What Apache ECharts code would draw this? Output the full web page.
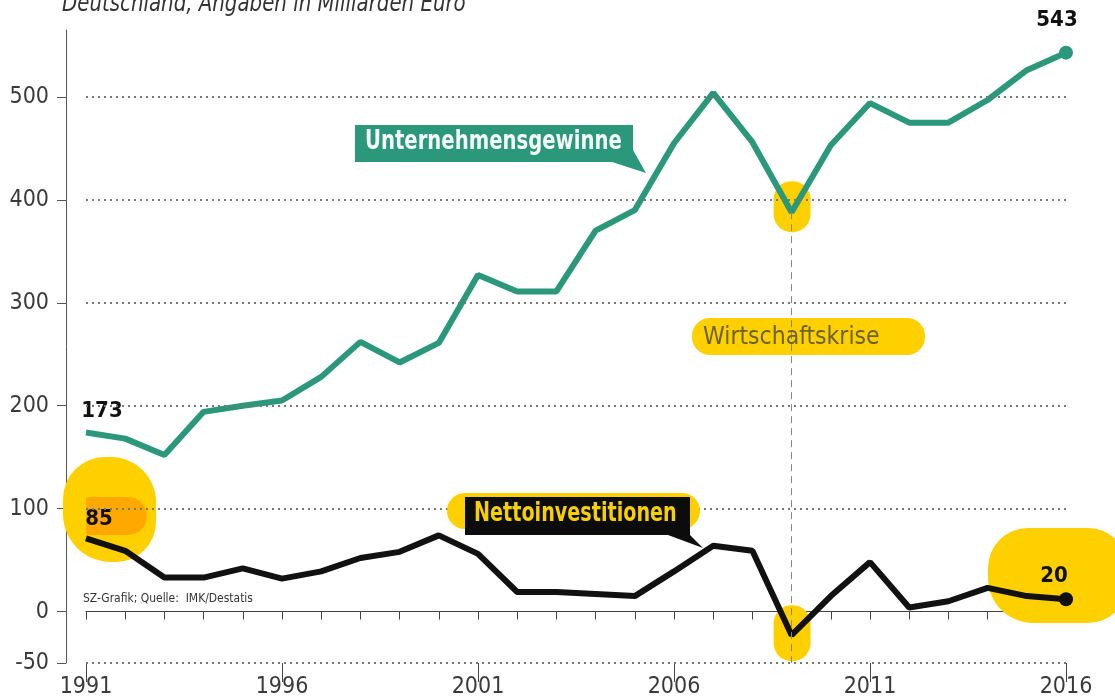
<!DOCTYPE html>
<html>
<head>
<meta charset="utf-8">
<script src="https://cdn.jsdelivr.net/npm/echarts@6/dist/echarts.min.js"></script>
<style>
  html, body { margin: 0; padding: 0; background: #fff; }
  #main { width: 1115px; height: 700px; }
</style>
</head>
<body>
<div id="main"></div>
<script>
// Daten (Milliarden Euro)
const years = ['1991', '1992', '1993', '1994', '1995', '1996', '1997', '1998', '1999', '2000',
  '2001', '2002', '2003', '2004', '2005', '2006', '2007', '2008', '2009', '2010',
  '2011', '2012', '2013', '2014', '2015', '2016'];
const gains = [174, 168, 152, 194, 200, 205, 228, 262, 242, 261,
  327, 311, 311, 370, 390, 455, 504, 456, 388, 453,
  494, 475, 475, 497, 526, 543];
const invest = [71, 59, 33, 33, 42, 32, 39, 52, 58, 74,
  56, 19, 19, 17, 15, 39, 64, 59, -23, 15,
  48, 4, 10, 23, 15, 12];
const gainLabels = ['173', '543'];     // erster / letzter Wert
const investLabels = ['85', '20'];
const yTicks = [-50, 0, 100, 200, 300, 400, 500];
const gridValues = [-50, 100, 200, 300, 400, 500];
const crisisYear = '2009';

const GREEN = '#2b987b';
const YELLOW = '#ffd000';
const NARROW = '"DejaVu Sans Condensed", "Liberation Sans Narrow", sans-serif';

const last = years.length - 1;

// erster und letzter Punkt bekommen Beschriftung
const withLabels = (vals, labels, offFirst, offLast) => vals.map((v, i) => {
  if (i === 0) {
    return { value: v, label: { show: true, formatter: labels[0], position: 'top', offset: offFirst } };
  }
  if (i === last) {
    return { value: v, label: { show: true, formatter: labels[1], position: 'top', offset: offLast } };
  }
  return v;
});

const valueLabel = {
  fontFamily: NARROW,
  fontWeight: 'bold',
  fontSize: 22,
  color: '#111'
};

const chart = echarts.init(document.getElementById('main'));

const option = {
  animation: false,
  grid: { left: 86, right: 49, top: 30, bottom: 37, containLabel: false },
  xAxis: [
    {
      // Nulllinie mit kleinen Ticks
      type: 'category',
      position: 'bottom',
      data: years,
      boundaryGap: false,
      axisLine: { onZero: true, lineStyle: { color: '#444', width: 1 } },
      axisTick: { show: true, interval: 0, length: 8, lineStyle: { color: '#444' } },
      axisLabel: { show: false },
      splitLine: { show: false }
    },
    {
      // lange Ticks alle 5 Jahre
      type: 'category',
      position: 'bottom',
      data: years,
      boundaryGap: false,
      axisLine: { show: false, onZero: true },
      axisTick: { show: true, interval: 4, length: 19, lineStyle: { color: '#444' } },
      axisLabel: { show: false },
      splitLine: { show: false }
    },
    {
      // Jahreszahlen unten
      type: 'category',
      position: 'bottom',
      data: years,
      boundaryGap: false,
      axisLine: { show: false, onZero: false },
      axisTick: { show: false },
      axisLabel: {
        interval: 4,
        margin: 13,
        fontFamily: NARROW,
        fontSize: 23,
        color: '#3a3a3a'
      },
      splitLine: { show: false }
    }
  ],
  yAxis: {
    type: 'value',
    min: -50,
    max: 565,
    offset: 20,
    axisLine: { show: true, lineStyle: { color: '#555', width: 1 } },
    axisTick: { show: true, customValues: yTicks, length: 9, lineStyle: { color: '#555' } },
    axisLabel: {
      customValues: yTicks,
      margin: 17,
      fontFamily: NARROW,
      fontSize: 23,
      color: '#3a3a3a'
    },
    splitLine: { show: false }
  },
  series: [
    {
      // gepunktete Hilfslinien
      name: 'grid',
      type: 'line',
      data: [],
      z: 1,
      silent: true,
      markLine: {
        silent: true,
        symbol: 'none',
        label: { show: false },
        lineStyle: { type: [2, 4], color: '#777', width: 2 },
        data: gridValues.map(v => ({ yAxis: v }))
      }
    },
    {
      name: 'Unternehmensgewinne',
      type: 'line',
      z: 3,
      data: withLabels(gains, gainLabels, [16, -5], [-9, -9]),
      lineStyle: { color: GREEN, width: 6 },
      itemStyle: { color: GREEN },
      symbol: 'circle',
      symbolSize: (v, p) => (p.dataIndex === last ? 14 : 0),
      showAllSymbol: true,
      label: valueLabel,
      emphasis: { disabled: true },
      markLine: {
        silent: true,
        symbol: 'none',
        label: { show: false },
        lineStyle: { type: [7, 5], color: '#888', width: 1 },
        data: [[
          { coord: [crisisYear, gains[years.indexOf(crisisYear)]] },
          { coord: [crisisYear, -50] }
        ]]
      }
    },
    {
      name: 'Nettoinvestitionen',
      type: 'line',
      z: 3,
      data: withLabels(invest, investLabels, [13, -3], [-12, 0]),
      lineStyle: { color: '#111', width: 6 },
      itemStyle: { color: '#111' },
      symbol: 'circle',
      symbolSize: (v, p) => (p.dataIndex === last ? 14 : 0),
      showAllSymbol: true,
      label: valueLabel,
      emphasis: { disabled: true }
    }
  ]
};

chart.setOption(option);

// Markierungen an den Krisenpunkten aus den Daten berechnen
const ci = years.indexOf(crisisYear);
const pG = chart.convertToPixel({ xAxisIndex: 0, yAxisIndex: 0 }, [crisisYear, gains[ci]]);
const pI = chart.convertToPixel({ xAxisIndex: 0, yAxisIndex: 0 }, [crisisYear, invest[ci]]);

chart.setOption({
  graphic: [
    // Titel (oben abgeschnitten)
    {
      type: 'text', x: 62, y: -8, scaleX: 0.88, z: 10,
      style: {
        text: 'Deutschland, Angaben in Milliarden Euro',
        font: 'italic 25px ' + NARROW,
        fill: '#333'
      }
    },
    // Quelle
    {
      type: 'text', x: 83, y: 592, scaleX: 0.92, z: 10,
      style: { text: 'SZ-Grafik; Quelle:  IMK/Destatis', font: '13px ' + NARROW, fill: '#333' }
    },
    // gelbe Markierungen
    {
      type: 'rect', z: 1,
      shape: { x: pG[0] - 18, y: pG[1] - 31, width: 37, height: 51, r: 18 },
      style: { fill: YELLOW }
    },
    {
      type: 'rect', z: 1,
      shape: { x: pI[0] - 18, y: pI[1] - 30, width: 37, height: 56, r: 18 },
      style: { fill: YELLOW }
    },
    {
      type: 'rect', z: 1,
      shape: { x: 63, y: 457, width: 93, height: 105, r: [42, 45, 40, 48] },
      style: { fill: YELLOW }
    },
    {
      type: 'rect', z: 1,
      shape: { x: 86, y: 497, width: 61, height: 38, r: [3, 19, 19, 3] },
      style: { fill: '#ffa800' }
    },
    {
      type: 'rect', z: 1,
      shape: { x: 988, y: 528, width: 140, height: 95, r: [40, 40, 40, 45] },
      style: { fill: YELLOW }
    },
    // Wirtschaftskrise
    {
      type: 'rect', z: 1,
      shape: { x: 692, y: 318, width: 233, height: 37, r: 18 },
      style: { fill: YELLOW }
    },
    {
      type: 'text', x: 703, y: 325, scaleX: 0.98, z: 6,
      style: { text: 'Wirtschaftskrise', font: '25px ' + NARROW, fill: '#6b6232' }
    },
    // Unternehmensgewinne Kasten
    {
      type: 'polygon', z: 6,
      shape: { points: [[355, 125], [633, 125], [633, 150], [646, 173], [612, 162], [355, 162]] },
      style: { fill: GREEN }
    },
    {
      type: 'text', x: 365, y: 129, scaleX: 0.84, z: 7,
      style: { text: 'Unternehmensgewinne', font: 'bold 26px ' + NARROW, fill: '#f4fbf8' }
    },
    // Nettoinvestitionen Kasten
    {
      type: 'rect', z: 5,
      shape: { x: 447, y: 493, width: 253, height: 36, r: 18 },
      style: { fill: YELLOW }
    },
    {
      type: 'polygon', z: 6,
      shape: { points: [[465, 497], [690, 497], [690, 535], [703, 548], [668, 535], [465, 535]] },
      style: { fill: '#0c0c0c' }
    },
    {
      type: 'text', x: 474, y: 501, scaleX: 0.82, z: 7,
      style: { text: 'Nettoinvestitionen', font: 'bold 26px ' + NARROW, fill: '#f7d000' }
    }
  ]
});
</script>
</body>
</html>
